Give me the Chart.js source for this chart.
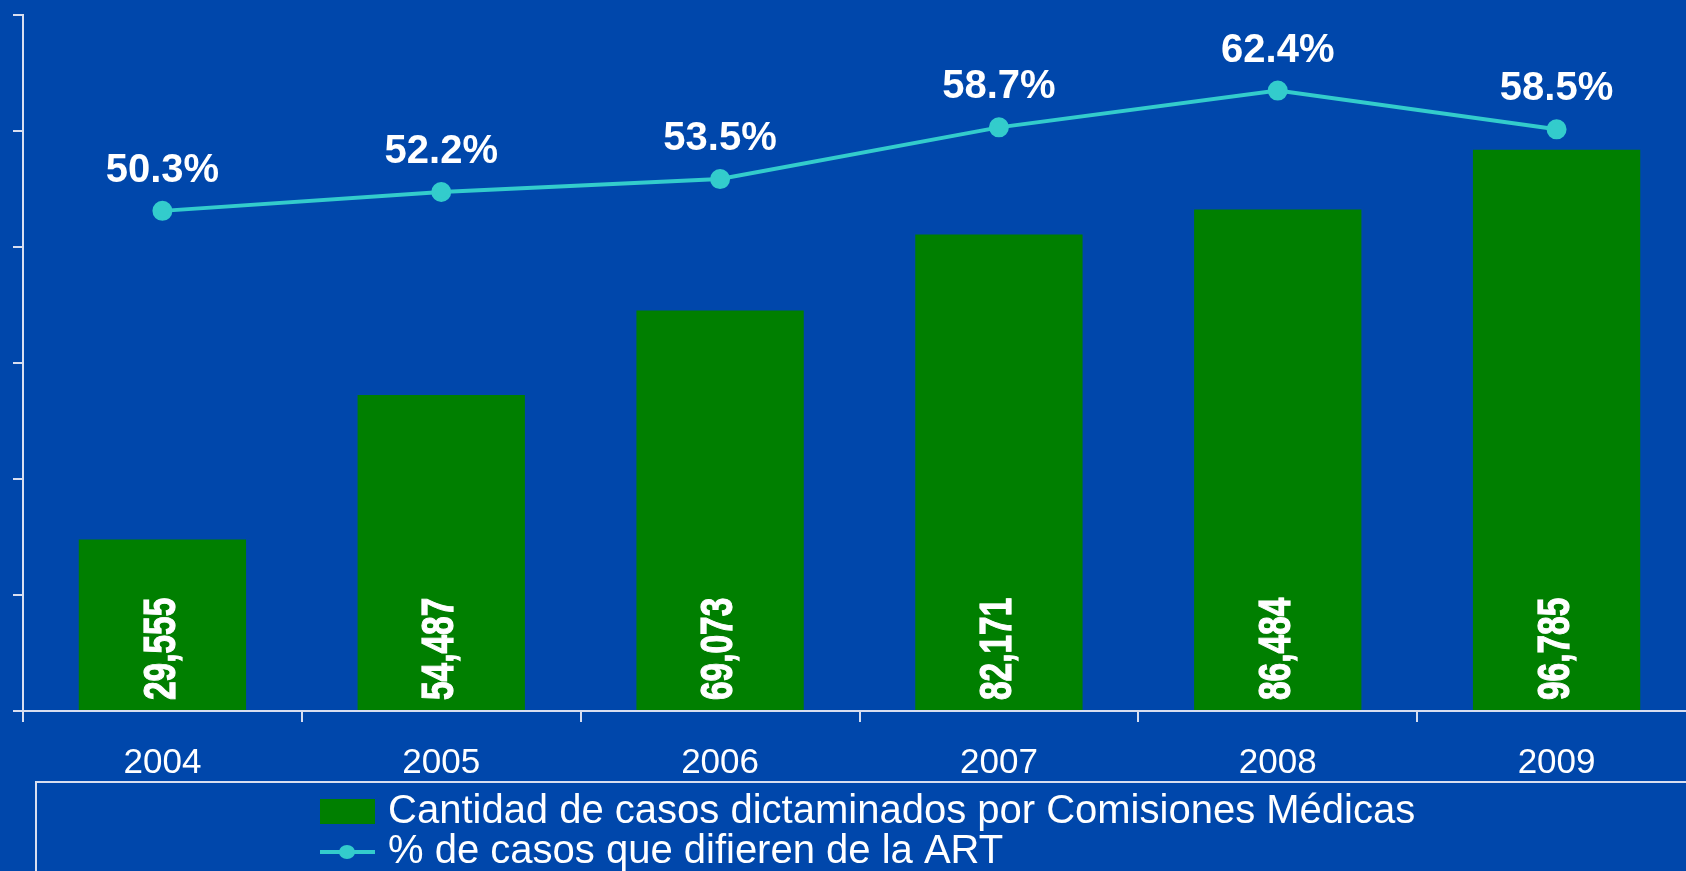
<!DOCTYPE html>
<html>
<head>
<meta charset="utf-8">
<script src="https://cdn.jsdelivr.net/npm/chart.js@4.4.1/dist/chart.umd.min.js"></script>
<style>
  html, body { margin: 0; padding: 0; background: #0047ab; overflow: hidden; }
  .wrap { width: 1710px; height: 871px; }
</style>
</head>
<body>
<div class="wrap"><canvas id="chart"></canvas></div>
<script>
// data --------------------
const years = ['2004', '2005', '2006', '2007', '2008', '2009'];
const casos = [29555, 54487, 69073, 82171, 86484, 96785];
const porcentaje = [50.3, 52.2, 53.5, 58.7, 62.4, 58.5];
const casosLabel = 'Cantidad de casos dictaminados por Comisiones Médicas';
const porcentajeLabel = '% de casos que difieren de la ART';

// colors
const BG = '#0047ab';
const GREEN = '#007f00';
const TEAL = '#33cccc';
const AXIS = '#d8def0';
const FONT = '"Liberation Sans", Arial, sans-serif';

// value labels on bars and points
const valueLabels = {
  id: 'valueLabels',
  afterDatasetsDraw(chart) {
    const ctx = chart.ctx;
    const barMeta = chart.getDatasetMeta(0);
    const lineMeta = chart.getDatasetMeta(1);
    ctx.save();
    ctx.fillStyle = '#fff';
    ctx.strokeStyle = '#fff';
    ctx.lineWidth = 1.2;

    // numbers inside bars, rotated
    ctx.font = 'bold 44px ' + FONT;
    ctx.textAlign = 'left';
    ctx.textBaseline = 'middle';
    barMeta.data.forEach((bar, i) => {
      const txt = casos[i].toLocaleString('en-US');
      ctx.save();
      ctx.translate(bar.x, bar.base - 10);
      ctx.rotate(-Math.PI / 2);
      ctx.scale(0.76, 1);
      ctx.fillText(txt, 0, 0);
      ctx.strokeText(txt, 0, 0);
      ctx.restore();
    });

    // percentages above points
    ctx.font = 'bold 40px ' + FONT;
    ctx.textAlign = 'center';
    ctx.textBaseline = 'alphabetic';
    lineMeta.data.forEach((pt, i) => {
      ctx.fillText(porcentaje[i].toFixed(1) + '%', pt.x, pt.y - 29);
    });
    ctx.restore();
  },
};

// boxed legend under the axis
const boxLegend = {
  id: 'boxLegend',
  afterDraw(chart) {
    const ctx = chart.ctx;
    const top = chart.chartArea.bottom + 71;
    ctx.save();
    ctx.strokeStyle = AXIS;
    ctx.lineWidth = 2;
    ctx.strokeRect(36, top, chart.width + 20, 200);

    const x0 = 320;
    const y1 = top + 29;
    const y2 = top + 70;
    ctx.fillStyle = GREEN;
    ctx.fillRect(x0, y1 - 12, 55, 25);

    ctx.strokeStyle = TEAL;
    ctx.lineWidth = 4;
    ctx.beginPath();
    ctx.moveTo(x0, y2);
    ctx.lineTo(x0 + 55, y2);
    ctx.stroke();
    ctx.fillStyle = TEAL;
    ctx.beginPath();
    ctx.ellipse(x0 + 27, y2, 8, 7, 0, 0, Math.PI * 2);
    ctx.fill();

    ctx.fillStyle = '#fff';
    ctx.font = '40px ' + FONT;
    ctx.textAlign = 'left';
    ctx.textBaseline = 'middle';
    ctx.fillText(chart.data.datasets[0].label, 388, y1 + 1);
    ctx.fillText(chart.data.datasets[1].label, 388, y2);
    ctx.restore();
  },
};

const config = {
  type: 'bar',
  data: {
    labels: years,
    datasets: [
      {
        label: casosLabel,
        data: casos,
        backgroundColor: GREEN,
        yAxisID: 'y',
        order: 2,
        barPercentage: 0.6,
        categoryPercentage: 1,
      },
      {
        type: 'line',
        label: porcentajeLabel,
        data: porcentaje,
        borderColor: TEAL,
        backgroundColor: TEAL,
        borderWidth: 4,
        pointRadius: 8,
        pointHoverRadius: 8,
        yAxisID: 'y2',
        order: 1,
        tension: 0,
      },
    ],
  },
  options: {
    responsive: true,
    maintainAspectRatio: false,
    animation: false,
    layout: { padding: { left: 13, top: 15, right: 14, bottom: 67 } },
    plugins: { legend: { display: false }, tooltip: { enabled: false } },
    scales: {
      x: {
        grid: { drawOnChartArea: false, color: AXIS, tickLength: 11, lineWidth: 2 },
        border: { color: AXIS, width: 2 },
        ticks: { color: '#fff', font: { family: FONT, size: 35 }, padding: 20 },
      },
      y: {
        min: 0,
        max: 120000,
        ticks: { display: false, stepSize: 20000 },
        grid: { drawOnChartArea: false, color: AXIS, tickLength: 10, lineWidth: 2 },
        border: { color: AXIS, width: 2 },
      },
      y2: {
        display: false,
        min: 0,
        max: 70,
      },
    },
  },
  plugins: [valueLabels, boxLegend],
};

(() => new Chart(document.getElementById('chart'), config))();
</script>
</body>
</html>
